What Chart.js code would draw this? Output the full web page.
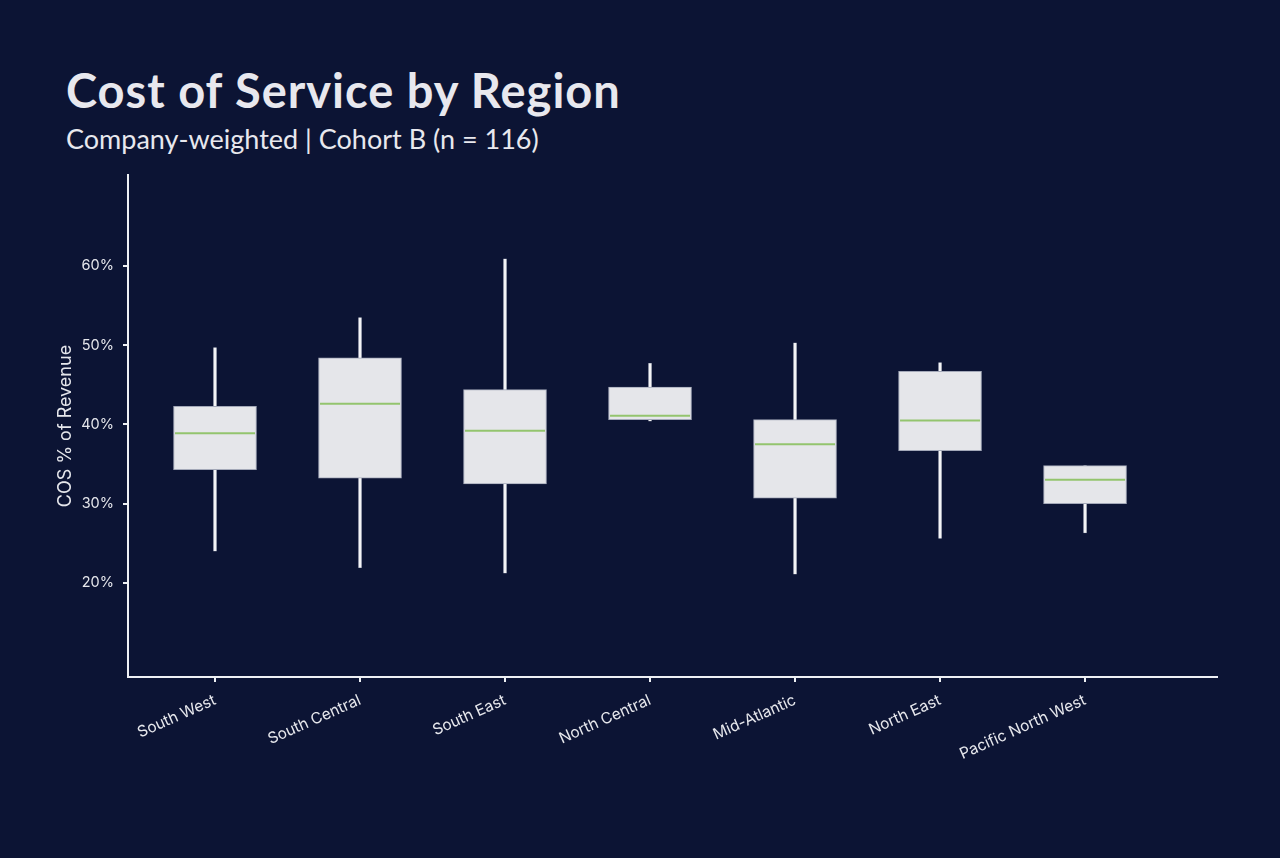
<!DOCTYPE html>
<html>
<head>
<meta charset="utf-8">
<script src="https://cdn.jsdelivr.net/npm/chart.js@4.4.1/dist/chart.umd.min.js"></script>
<style>
  body { margin: 0; background: #0c1434; }
  #wrap { position: relative; width: 1280px; height: 858px; }
  h1 { position: absolute; left: 66px; top: 62px; margin: 0; font: 700 47px Lato, sans-serif; color: #e8e8ee; letter-spacing: 1px; white-space: nowrap; }
  h2 { position: absolute; left: 66px; top: 122px; margin: 0; font: 400 27px Lato, sans-serif; color: #e8e8ee; white-space: nowrap; }
  canvas { position: absolute; left: 0; top: 0; }
</style>
</head>
<body>
<div id="wrap">
  <h1>Cost of Service by Region</h1>
  <h2>Company-weighted | Cohort B (n = 116)</h2>
  <canvas id="cosChart" width="1280" height="858"></canvas>
</div>
<script>
// regiones y valores (% de ingresos)
const regions = ['South West', 'South Central', 'South East', 'North Central', 'Mid-Atlantic', 'North East', 'Pacific North West'];
const mins    = [24.0, 21.9, 21.2, 40.4, 21.1, 25.6, 26.3];
const q1s     = [34.3, 33.2, 32.5, 40.6, 30.7, 36.7, 30.0];
const medians = [38.9, 42.6, 39.2, 41.1, 37.5, 40.5, 33.0];
const q3s     = [42.3, 48.4, 44.4, 44.7, 40.6, 46.7, 34.8];
const maxs    = [49.7, 53.5, 60.9, 47.7, 50.3, 47.8, 34.8];
const yTicks  = [20, 30, 40, 50, 60];

document.addEventListener("DOMContentLoaded", function() {
    const axisColor = '#eef0f4';
    const textColor = '#e6e7ec';

    const whiskers = regions.map((r, i) => ({ x: i, y: [mins[i], maxs[i]] }));
    const boxes = regions.map((r, i) => ({ x: i, y: [q1s[i], q3s[i]] }));
    const meds = regions.map((r, i) => ({ x: i, y: medians[i] }));

    const ctx = document.getElementById('cosChart').getContext('2d');
    new Chart(ctx, {
        type: 'bar',
        data: {
            datasets: [
                {
                    // mediana
                    type: 'line',
                    data: meds,
                    showLine: false,
                    pointStyle: 'line',
                    pointRadius: 40,
                    pointHoverRadius: 40,
                    borderColor: '#93c46e',
                    borderWidth: 2,
                    order: 0
                },
                {
                    // caja q1-q3
                    data: boxes,
                    backgroundColor: '#e5e6ea',
                    borderColor: '#a3a8b8',
                    borderWidth: 1,
                    borderSkipped: false,
                    barThickness: 83,
                    grouped: false,
                    order: 1
                },
                {
                    // bigotes min-max
                    data: whiskers,
                    backgroundColor: '#f4f4f6',
                    borderColor: '#9aa0b0',
                    borderWidth: 0.5,
                    borderSkipped: false,
                    barThickness: 3,
                    grouped: false,
                    order: 2
                }
            ]
        },
        options: {
            responsive: false,
            animation: false,
            layout: { padding: { top: 175, right: 63, left: 53, bottom: 0 } },
            plugins: {
                legend: { display: false },
                tooltip: { enabled: false }
            },
            scales: {
                x: {
                    type: 'linear',
                    min: -0.6,
                    max: 6.91,
                    offset: false,
                    afterBuildTicks: scale => { scale.ticks = regions.map((r, i) => ({ value: i })); },
                    afterFit: scale => { scale.height = 181; },
                    border: { color: axisColor, width: 2 },
                    grid: { drawOnChartArea: false, offset: false, color: axisColor, tickLength: 5, lineWidth: 2 },
                    ticks: {
                        autoSkip: false,
                        minRotation: 24,
                        maxRotation: 24,
                        padding: 9,
                        color: textColor,
                        font: { family: 'Inter', size: 15.5 },
                        callback: v => regions[v]
                    }
                },
                y: {
                    min: 8.1,
                    max: 71.5,
                    afterBuildTicks: scale => { scale.ticks = yTicks.map(v => ({ value: v })); },
                    afterFit: scale => { scale.width = 75; },
                    border: { color: axisColor, width: 2 },
                    grid: { drawOnChartArea: false, color: axisColor, tickLength: 5, lineWidth: 2 },
                    title: {
                        display: true,
                        text: 'COS % of Revenue',
                        color: textColor,
                        font: { family: 'Inter', size: 18 },
                        padding: 2
                    },
                    ticks: {
                        padding: 9,
                        color: textColor,
                        font: { family: 'Inter', size: 14.5 },
                        callback: v => v + '%'
                    }
                }
            }
        }
    });
});
</script>
</body>
</html>
